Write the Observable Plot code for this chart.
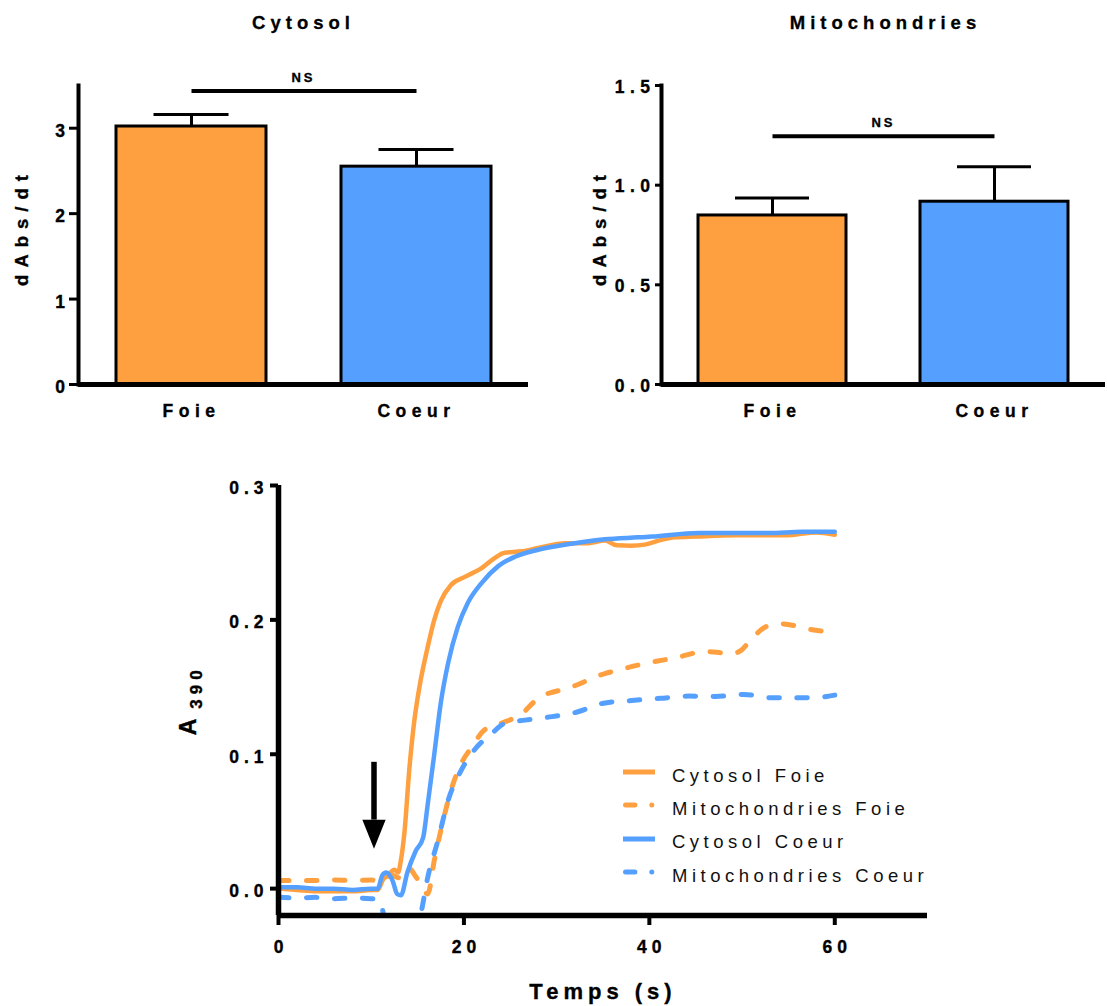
<!DOCTYPE html>
<html><head><meta charset="utf-8">
<script src="https://cdn.jsdelivr.net/npm/d3@7"></script>
<script src="https://cdn.jsdelivr.net/npm/@observablehq/plot@0.6"></script>
<style>
html,body{margin:0;padding:0;background:#fff;}
#root{position:relative;width:1107px;height:1006px;overflow:hidden;font-family:"Liberation Sans",Arial,sans-serif;color:#000;}
.title{position:absolute;font-weight:bold;font-size:18.5px;letter-spacing:5px;text-indent:5px;line-height:20px;text-align:center;width:400px;white-space:nowrap;-webkit-text-stroke:0.3px #000;}
.leg{position:absolute;font-size:18.5px;letter-spacing:4.5px;line-height:20px;white-space:nowrap;color:#111;}
.sw{position:absolute;}
</style></head>
<body><div id="root"></div>
<script>
// ---------- data ----------
const categories = ["Foie", "Coeur"];
const barColors = ["#FFA040", "#55A0FF"];
const panelTitles = ["Cytosol", "Mitochondries"];
const yLabelBars = "dAbs/dt";
const cytoMean = [3.02, 2.55];
const cytoSem = [0.14, 0.20];
const cytoNS = 3.436;
const cytoTicks = [0, 1, 2, 3];
const cytoDomain = [0, 3.5];
const mitoMean = [0.848, 0.917];
const mitoSem = [0.087, 0.176];
const mitoNS = 1.246;
const mitoTicks = [0, 0.5, 1, 1.5];
const mitoDomain = [0, 1.5];
const nsLabel = "NS";

const seriesNames = ["Cytosol Foie", "Mitochondries Foie", "Cytosol Coeur", "Mitochondries Coeur"];
const seriesColors = ["#FFA040", "#FFA040", "#55A0FF", "#55A0FF"];
const seriesDashed = [false, true, false, true];

const cytoFoieT = [0, 2, 4, 6, 8, 10, 10.7, 11.3, 11.8, 12.5, 12.9, 13.2, 13.6, 14.1, 14.65, 15.2, 16.1, 16.8, 17.5, 18.6, 20.1, 21.9, 23.3, 24.4, 26.2, 28, 30.9, 33.4, 35.2, 36.5, 38, 39.5, 41, 42.8, 45, 49.3, 52, 54.7, 58, 60];
const cytoFoieA = [0.000, -0.001, -0.002, -0.002, -0.002, -0.001, -0.001, 0.007, 0.010, 0.014, 0.012, 0.021, 0.043, 0.088, 0.125, 0.150, 0.180, 0.200, 0.214, 0.226, 0.232, 0.2385, 0.246, 0.250, 0.251, 0.2535, 0.257, 0.257, 0.259, 0.2555, 0.2552, 0.256, 0.259, 0.2614, 0.262, 0.2629, 0.2629, 0.2629, 0.2651, 0.2634];
const mitoFoieT = [0, 2, 4, 6, 8, 10, 10.8, 11.5, 12.3, 13, 13.6, 14.1, 14.7, 15.3, 16.1, 16.8, 17.5, 18.6, 19.7, 20.8, 22.2, 24, 26.2, 28, 31.6, 35.2, 36.7, 38.8, 39.9, 42.8, 46.1, 48.9, 49.7, 51.1, 52.6, 54.4, 57.2, 60];
const mitoFoieA = [0.006, 0.006, 0.006, 0.0065, 0.006, 0.0065, 0.005, 0.008, 0.010, 0.008, 0.010, 0.015, 0.010, 0.004, -0.004, 0.021, 0.043, 0.073, 0.093, 0.105, 0.118, 0.123, 0.130, 0.1415, 0.150, 0.160, 0.1627, 0.1664, 0.168, 0.1718, 0.1764, 0.175, 0.1764, 0.1863, 0.195, 0.197, 0.193, 0.1907];
const cytoCoeurT = [0, 2, 4, 6, 8, 10, 10.7, 11.2, 11.6, 12.3, 12.8, 13.2, 13.9, 14.8, 15.6, 16.1, 16.8, 17.5, 18.3, 19.35, 20.4, 21.9, 23.7, 25.5, 28, 31.6, 35.2, 38.8, 40.3, 45.3, 52.9, 56.5, 60];
const cytoCoeurA = [0.001, 0.001, 0.000, 0.000, -0.001, 0.000, 0.000, 0.010, 0.012, 0.006, -0.004, -0.005, 0.012, 0.028, 0.038, 0.063, 0.100, 0.138, 0.168, 0.195, 0.2124, 0.2274, 0.240, 0.247, 0.2522, 0.2567, 0.260, 0.2614, 0.262, 0.2647, 0.2647, 0.2655, 0.2655];
const mitoCoeurT = [0, 2, 4, 6, 8, 10, 10.7, 11.2, 11.6, 12.5, 13.5, 14.5, 15.3, 16.1, 17.2, 18.3, 19.7, 21.1, 23, 24.4, 26.6, 29.5, 32.3, 34.9, 38.1, 41.2, 44.3, 47.1, 50.2, 53.3, 56.3, 58.5, 60];
const mitoCoeurA = [-0.0065, -0.007, -0.0065, -0.0075, -0.007, -0.0075, -0.008, -0.015, -0.030, -0.040, -0.040, -0.032, -0.020, 0.0085, 0.036, 0.0657, 0.088, 0.103, 0.1154, 0.123, 0.1254, 0.128, 0.1316, 0.1378, 0.140, 0.1416, 0.1433, 0.143, 0.1445, 0.142, 0.142, 0.1425, 0.144];

const timeDomain = [0, 70];
const absDomain = [-0.02, 0.3];
const timeTicks = [0, 20, 40, 60];
const absTicks = [0, 0.1, 0.2, 0.3];
const xLabelLine = "Temps (s)";
const yLabelMain = "A";
const yLabelSub = "390";
const arrowTime = 10.3;
const arrowTop = 0.094;
const arrowHeadBase = 0.051;
const arrowTip = 0.0296;

// ---------- helpers ----------
const FONT = '"Liberation Sans", Arial, sans-serif';
const root = document.getElementById("root");

function place(svg, left, top) {
  svg.style.position = "absolute";
  svg.style.left = left + "px";
  svg.style.top = top + "px";
  root.appendChild(svg);
}
function spacing(svg, fn) {
  d3.select(svg).selectAll("text").each(function () {
    this.style.letterSpacing = fn(this.textContent) + "px";
    this.style.stroke = "#000";
    this.style.strokeWidth = "0.35px";
  });
}

function barChart(o) {
  const data = categories.map((c, i) => ({cat: c, mean: o.means[i], hi: o.means[i] + o.sems[i], color: barColors[i]}));
  const svg = Plot.plot({
    width: o.width, height: o.height,
    marginLeft: o.ml, marginRight: o.mr, marginTop: 45, marginBottom: 56,
    style: {fontFamily: FONT, color: "#000", background: "transparent", overflow: "visible"},
    x: {type: "band", domain: categories, paddingInner: 1 / 3, paddingOuter: 1 / 6, label: null},
    y: {domain: o.domain, label: null},
    color: {type: "identity"},
    marks: [
      Plot.ruleX(data, {x: "cat", y1: "mean", y2: "hi", stroke: "#000", strokeWidth: 3}),
      Plot.tickY(data, {x: "cat", y: "hi", stroke: "#000", strokeWidth: 3, insetLeft: o.capInset, insetRight: o.capInset}),
      Plot.barY(data, {x: "cat", y: "mean", fill: "color", stroke: "#000", strokeWidth: 3}),
      Plot.line([{cat: categories[0], y: o.ns}, {cat: categories[1], y: o.ns}], {x: "cat", y: "y", stroke: "#000", strokeWidth: 4, strokeLinecap: "butt"}),
      Plot.text([o.ns], {y: d => d, text: () => nsLabel, frameAnchor: "middle", dy: -13, fontSize: 13, fontWeight: "bold", lineAnchor: "middle"}),
      Plot.ruleY([0], {stroke: "#000", strokeWidth: 5}),
      Plot.frame({anchor: "left", stroke: "#000", strokeWidth: 4}),
      Plot.axisY({ticks: o.ticks, tickSize: o.tickLen, tickFormat: () => "", strokeWidth: 3, label: null}),
      Plot.axisY({ticks: o.ticks, tickSize: 0, tickPadding: o.tickPad, tickFormat: o.fmt, dy: o.tickDy, fontSize: 17.5, fontWeight: "bold", label: null}),
      Plot.axisX({tickSize: 0, tickPadding: 20, fontSize: 17.5, fontWeight: "bold", label: null}),
      Plot.text([yLabelBars], {frameAnchor: "left", rotate: -90, dx: o.labelDx, dy: -8, fontSize: 18.5, fontWeight: "bold", lineAnchor: "middle", textAnchor: "middle"})
    ]
  });
  spacing(svg, t => t === nsLabel ? 3 : t === yLabelBars ? 7 : 5.5);
  return svg;
}

// ---------- top charts ----------
place(barChart({means: cytoMean, sems: cytoSem, ns: cytoNS, domain: cytoDomain, ticks: cytoTicks, fmt: d3.format("d"),
  width: 540, height: 400, ml: 78, mr: 12, capInset: 37.5, tickLen: 9, tickPad: 8, tickDy: 3, labelDx: -56}), 0, 40);
place(barChart({means: mitoMean, sems: mitoSem, ns: mitoNS, domain: mitoDomain, ticks: mitoTicks, fmt: d3.format(".1f"),
  width: 547, height: 400, ml: 101, mr: 2, capInset: 37, tickLen: 6, tickPad: 6, tickDy: 1.5, labelDx: -61.5}), 560, 40);

const titleCenters = [301, 883];
panelTitles.forEach((t, i) => {
  const d = document.createElement("div");
  d.className = "title";
  d.textContent = t;
  d.style.left = (titleCenters[i] - 200) + "px";
  d.style.top = "12.5px";
  root.appendChild(d);
});

// ---------- line chart ----------
const seriesT = [cytoFoieT, mitoFoieT, cytoCoeurT, mitoCoeurT];
const seriesA = [cytoFoieA, mitoFoieA, cytoCoeurA, mitoCoeurA];
const arrowHead = {
  draw(ctx, size) {
    const r = Math.sqrt(size / Math.PI);
    const h = r * 2.49;
    ctx.moveTo(-r, -h); ctx.lineTo(r, -h); ctx.lineTo(0, 0); ctx.closePath();
  }
};
const lineMarks = seriesNames.map((name, i) => {
  const pts = seriesT[i].map((t, j) => ({t, a: seriesA[i][j]}));
  return Plot.line(pts, {
    x: "t", y: "a", stroke: seriesColors[i], strokeWidth: seriesDashed[i] ? 5 : 4.5, curve: "monotone-x", clip: true,
    strokeDasharray: seriesDashed[i] ? "10.5,17.5" : null, strokeLinecap: "round"
  });
});
const lineSvg = Plot.plot({
  width: 800, height: 536,
  marginLeft: 128, marginRight: 23, marginTop: 15, marginBottom: 91,
  style: {fontFamily: FONT, color: "#000", background: "transparent", overflow: "visible"},
  x: {domain: timeDomain, label: null},
  y: {domain: absDomain, label: null},
  marks: [
    ...lineMarks,
    Plot.ruleX([{t: arrowTime, y1: arrowHeadBase, y2: arrowTop}], {x: "t", y1: "y1", y2: "y2", stroke: "#000", strokeWidth: 5.5}),
    Plot.dot([{t: arrowTime, a: arrowTip}], {x: "t", y: "a", symbol: arrowHead, r: 11.65, fill: "#000", stroke: null}),
    Plot.ruleX([timeDomain[0]], {stroke: "#000", strokeWidth: 5.5}),
    Plot.ruleY([absDomain[0]], {stroke: "#000", strokeWidth: 5.5}),
    Plot.axisY({ticks: absTicks, tickSize: 8, tickFormat: () => "", strokeWidth: 4, label: null}),
    Plot.axisY({ticks: absTicks, tickSize: 0, tickPadding: 10, tickFormat: d3.format(".1f"), dy: 3, fontSize: 17.5, fontWeight: "bold", label: null}),
    Plot.axisX({ticks: timeTicks, tickSize: 10, tickFormat: () => "", strokeWidth: 4, label: null}),
    Plot.axisX({ticks: timeTicks, tickSize: 0, tickPadding: 25, dx: 2.5, tickFormat: d3.format("d"), fontSize: 17.5, fontWeight: "bold", label: null}),
    Plot.text([xLabelLine], {frameAnchor: "bottom", dy: 76, fontSize: 22, fontWeight: "bold", lineAnchor: "middle"}),
    Plot.text([yLabelMain], {frameAnchor: "left", rotate: -90, dx: -89.7, dy: 26.5, fontSize: 23, fontWeight: "bold", lineAnchor: "middle", textAnchor: "middle"}),
    Plot.text([yLabelSub], {frameAnchor: "left", rotate: -90, dx: -81.8, dy: -13.5, fontSize: 17, fontWeight: "bold", lineAnchor: "middle", textAnchor: "middle"})
  ]
});
spacing(lineSvg, t => t === yLabelMain ? 0 : 5);
place(lineSvg, 150, 470);

// ---------- legend ----------
const legSwatchCenters = [771.7, 805, 838.7, 872];
const legTextCenters = [775.3, 809, 842.2, 876];
seriesNames.forEach((name, i) => {
  const sw = d3.create("svg").attr("class", "sw").attr("width", 34).attr("height", 8)
    .style("left", "623px").style("top", (legSwatchCenters[i] - 4) + "px");
  if (seriesDashed[i]) {
    sw.append("rect").attr("x", 0).attr("y", 1.5).attr("width", 14.4).attr("height", 5).attr("rx", 2.5).attr("fill", seriesColors[i]);
    sw.append("circle").attr("cx", 28.8).attr("cy", 4).attr("r", 2.5).attr("fill", seriesColors[i]);
  } else {
    sw.append("rect").attr("x", 0).attr("y", 1.5).attr("width", 32).attr("height", 5).attr("fill", seriesColors[i]);
  }
  root.appendChild(sw.node());
  const d = document.createElement("div");
  d.className = "leg";
  d.textContent = name;
  d.style.left = "672px";
  d.style.top = (legTextCenters[i] - 9.8) + "px";
  root.appendChild(d);
});
</script>
</body></html>
